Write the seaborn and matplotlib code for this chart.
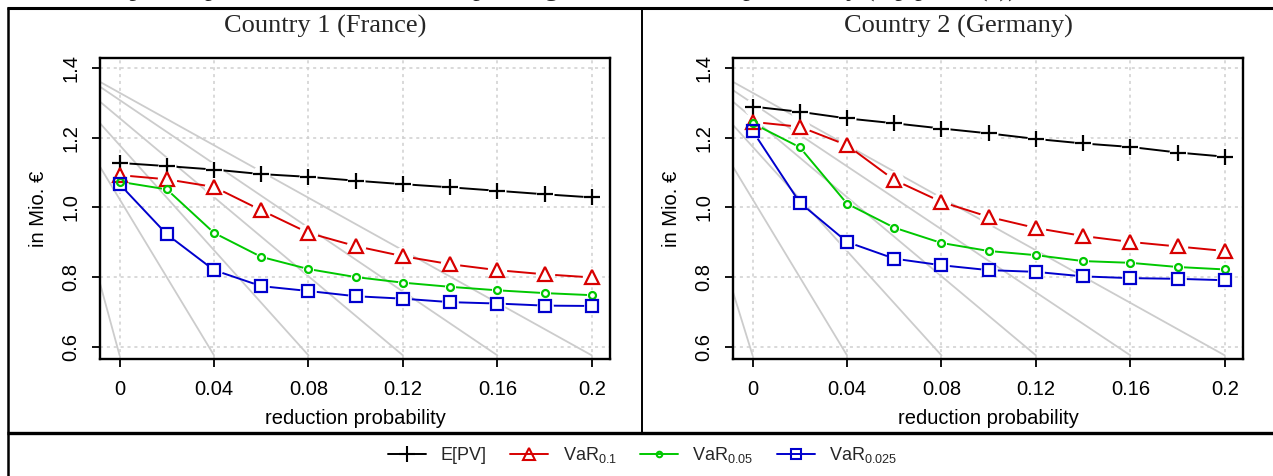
import matplotlib
matplotlib.use("Agg")
import matplotlib.pyplot as plt
import seaborn as sns
import pandas as pd
from matplotlib.lines import Line2D

# ---------------- data ----------------
prob = [0.0, 0.02, 0.04, 0.06, 0.08, 0.10, 0.12, 0.14, 0.16, 0.18, 0.20]

fr_epv = [1.128, 1.119, 1.109, 1.096, 1.088, 1.077, 1.067, 1.058, 1.048, 1.038, 1.029]
fr_var10 = [1.093, 1.081, 1.059, 0.992, 0.927, 0.889, 0.860, 0.837, 0.820, 0.808, 0.799]
fr_var05 = [1.074, 1.052, 0.927, 0.858, 0.823, 0.800, 0.784, 0.772, 0.762, 0.754, 0.748]
fr_var025 = [1.067, 0.923, 0.820, 0.774, 0.760, 0.745, 0.738, 0.728, 0.724, 0.718, 0.717]

de_epv = [1.290, 1.275, 1.256, 1.242, 1.227, 1.213, 1.197, 1.184, 1.174, 1.158, 1.146]
de_var10 = [1.246, 1.232, 1.179, 1.079, 1.016, 0.973, 0.941, 0.918, 0.901, 0.888, 0.875]
de_var05 = [1.242, 1.173, 1.011, 0.942, 0.898, 0.875, 0.863, 0.846, 0.841, 0.829, 0.822]
de_var025 = [1.220, 1.014, 0.901, 0.853, 0.834, 0.820, 0.815, 0.802, 0.797, 0.795, 0.791]

# grey reference lines: value at the left plot edge and the x where they reach the bottom
ref_end_x = [0.0, 0.04, 0.08, 0.12, 0.16, 0.20]
ref_end_y = 0.575
fr_ref_start_y = [0.782, 1.117, 1.242, 1.304, 1.347, 1.361]
de_ref_start_y = [0.757, 1.117, 1.237, 1.304, 1.337, 1.361]

series_labels = ["E[PV]", r"VaR$_{\mathregular{0.1}}$", r"VaR$_{\mathregular{0.05}}$", r"VaR$_{\mathregular{0.025}}$"]
panel_titles = ["Country 1 (France)", "Country 2 (Germany)"]
x_ticks = [0, 0.04, 0.08, 0.12, 0.16, 0.2]
x_ticklabels = ["0", "0.04", "0.08", "0.12", "0.16", "0.2"]
y_ticks = [0.6, 0.8, 1.0, 1.2, 1.4]
y_ticklabels = ["0.6", "0.8", "1.0", "1.2", "1.4"]
caption = "Expected present value and VaR depending on the reduction probability (top panel (c)),"

# ---------------- style ----------------
sns.set_theme(style="white")
plt.rcParams["font.family"] = ["Liberation Sans", "DejaVu Sans"]
plt.rcParams["mathtext.fontset"] = "custom"
plt.rcParams["mathtext.rm"] = "Liberation Sans"
plt.rcParams["mathtext.it"] = "Liberation Sans:italic"

colors = ["#000000", "#D70000", "#00C800", "#0000CD"]
markers = ["+", "^", "o", "s"]
msizes = [12, 10, 5, 8]
halo = [13, 14, 8, 12]
W, H = 1273, 476

fig = plt.figure(figsize=(W / 100, H / 100), dpi=100)
ax1 = fig.add_axes([100 / W, 1 - 359 / H, 510 / W, 301 / H])
ax2 = fig.add_axes([733 / W, 1 - 359 / H, 510 / W, 301 / H])

xlim = (-0.0083, 0.2077)
ylim = (0.5646, 1.4296)


def draw_panel(ax, series, ref_start):
    ax.set_xlim(*xlim)
    ax.set_ylim(*ylim)
    # grid
    for xv in x_ticks:
        ax.axvline(xv, color="#CFCFCF", lw=1.1, ls=(0, (2, 2.5)), zorder=0)
    for yv in y_ticks:
        ax.axhline(yv, color="#CFCFCF", lw=1.1, ls=(0, (2, 2.5)), zorder=0)
    # grey lines
    for y0, x1 in zip(ref_start, ref_end_x):
        d = pd.DataFrame({"x": [xlim[0], x1], "y": [y0, ref_end_y]})
        sns.lineplot(data=d, x="x", y="y", ax=ax, color="#CCCCCC", lw=1.3,
                     zorder=1, estimator=None, sort=False)
    # series
    for i, vals in enumerate(series):
        d = pd.DataFrame({"x": prob, "y": vals})
        sns.lineplot(data=d, x="x", y="y", ax=ax, color=colors[i], lw=1.4,
                     zorder=2 + i * 0.1, estimator=None)
        sns.lineplot(data=d, x="x", y="y", ax=ax, linestyle="", marker="o",
                     markersize=halo[i], mfc="white", mec="white", mew=0,
                     zorder=3 + i * 0.1, estimator=None)
    for i, vals in enumerate(series):
        d = pd.DataFrame({"x": prob, "y": vals})
        sns.lineplot(data=d, x="x", y="y", ax=ax, linestyle="", marker=markers[i],
                     markersize=msizes[i], mfc="none", mec=colors[i], mew=1.6,
                     zorder=4 + i * 0.1, estimator=None)
    ax.set_xticks(x_ticks)
    ax.set_xticklabels(x_ticklabels)
    ax.set_yticks(y_ticks)
    ax.set_yticklabels(y_ticklabels, rotation=90, va="center")
    ax.tick_params(axis="both", which="major", direction="out", length=6, width=1.3,
                   color="black", labelsize=14.5, labelcolor="black", bottom=True, left=True)
    ax.tick_params(axis="x", pad=9)
    ax.tick_params(axis="y", pad=8)
    ax.set_xlabel("reduction probability", fontsize=14.5, labelpad=7, color="black")
    ax.set_ylabel("in Mio. €", fontsize=14.5, labelpad=10, color="black")
    for s in ax.spines.values():
        s.set_visible(True)
        s.set_color("black")
        s.set_linewidth(1.7)
    ax.set_facecolor("white")


draw_panel(ax1, [fr_epv, fr_var10, fr_var05, fr_var025], fr_ref_start_y)
draw_panel(ax2, [de_epv, de_var10, de_var05, de_var025], de_ref_start_y)

# panel titles
fig.text(325 / W, 1 - 33 / H, panel_titles[0], family="Liberation Serif", fontsize=19,
         ha="center", va="baseline")
fig.text(958 / W, 1 - 33 / H, panel_titles[1], family="Liberation Serif", fontsize=19,
         ha="center", va="baseline")

# clipped caption line of the surrounding document (only descenders visible)
fig.text(100 / W, 1 + 3.5 / H, caption, family="Liberation Serif", fontsize=19,
         ha="left", va="baseline")

# frame lines
def fline(x0, y0, x1, y1, lw):
    fig.add_artist(Line2D([x0 / W, x1 / W], [1 - y0 / H, 1 - y1 / H], color="black",
                          lw=lw, transform=fig.transFigure, solid_capstyle="butt"))

fline(7, 7.5, W, 7.5, 2.2)
fline(8, 6.5, 8, H, 1.8)
fline(641.5, 7, 641.5, 432, 1.4)
fline(7, 432.5, W, 432.5, 2.4)

# legend
handles = [Line2D([], [], color=colors[i], marker=markers[i], mfc="none", mec=colors[i],
                  markersize=[11, 8, 4, 7][i], mew=1.5, lw=1.4) for i in range(4)]
fig.legend(handles, series_labels, loc="center", bbox_to_anchor=(643 / W, 1 - 455 / H),
           ncol=4, frameon=False, fontsize=13, handlelength=2.1, handletextpad=0.8,
           columnspacing=1.3, borderpad=0)

fig.savefig("out.png", dpi=100, facecolor="white")
